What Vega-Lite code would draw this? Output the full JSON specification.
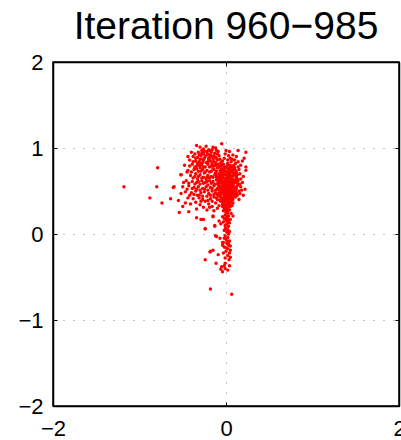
{
"$schema": "https://vega.github.io/schema/vega-lite/v6.json",
"width": 346, "height": 344,
"autosize": {"type": "none"},
"padding": {"left": 53, "top": 62, "right": 2, "bottom": 34},
"title": {"text": "Iteration 960−985", "fontSize": 39, "font": "Liberation Sans", "fontWeight": "normal", "color": "black", "anchor": "middle", "frame": "group", "orient": "top", "offset": 4},
"config": {
  "view": {"stroke": "black", "strokeWidth": 1.5},
  "axis": {"labelFont": "Liberation Sans", "labelFontSize": 22, "labelColor": "black", "labelFlush": false, "labelOverlap": false, "labelBound": false, "domainColor": "black", "domainWidth": 1.5, "tickColor": "black", "tickSize": -4, "tickWidth": 1, "gridColor": "#808080", "gridDash": [1, 9], "gridWidth": 1}
},
"data": {"values": [
{"x":-0.03,"y":0.81},{"x":0.01,"y":0.79},{"x":0.04,"y":0.80},{"x":0.07,"y":0.78},{"x":-0.01,"y":0.77},{"x":0.02,"y":0.82},
{"x":-0.05,"y":0.76},{"x":-0.02,"y":0.75},{"x":0.00,"y":0.77},{"x":0.03,"y":0.76},{"x":0.05,"y":0.74},{"x":0.08,"y":0.75},{"x":0.10,"y":0.77},{"x":0.01,"y":0.73},
{"x":-0.06,"y":0.72},{"x":-0.03,"y":0.71},{"x":-0.01,"y":0.73},{"x":0.02,"y":0.72},{"x":0.04,"y":0.70},{"x":0.06,"y":0.72},{"x":0.09,"y":0.71},{"x":0.00,"y":0.69},{"x":0.03,"y":0.74},
{"x":-0.07,"y":0.68},{"x":-0.04,"y":0.67},{"x":-0.02,"y":0.69},{"x":0.01,"y":0.68},{"x":0.03,"y":0.66},{"x":0.05,"y":0.68},{"x":0.07,"y":0.67},{"x":0.10,"y":0.68},{"x":0.12,"y":0.66},{"x":0.00,"y":0.65},{"x":0.02,"y":0.70},
{"x":-0.08,"y":0.64},{"x":-0.05,"y":0.63},{"x":-0.03,"y":0.65},{"x":-0.01,"y":0.62},{"x":0.01,"y":0.64},{"x":0.03,"y":0.63},{"x":0.04,"y":0.65},{"x":0.06,"y":0.62},{"x":0.08,"y":0.64},{"x":0.11,"y":0.63},{"x":0.02,"y":0.61},{"x":-0.02,"y":0.60},
{"x":-0.09,"y":0.60},{"x":-0.06,"y":0.59},{"x":-0.04,"y":0.61},{"x":-0.01,"y":0.58},{"x":0.00,"y":0.60},{"x":0.02,"y":0.59},{"x":0.04,"y":0.60},{"x":0.05,"y":0.58},{"x":0.07,"y":0.61},{"x":0.09,"y":0.59},{"x":0.12,"y":0.60},{"x":0.01,"y":0.57},{"x":0.03,"y":0.62},
{"x":-0.08,"y":0.56},{"x":-0.05,"y":0.55},{"x":-0.03,"y":0.57},{"x":-0.02,"y":0.54},{"x":0.00,"y":0.56},{"x":0.01,"y":0.55},{"x":0.03,"y":0.56},{"x":0.04,"y":0.53},{"x":0.06,"y":0.55},{"x":0.08,"y":0.57},{"x":0.10,"y":0.54},{"x":0.13,"y":0.56},{"x":0.02,"y":0.52},{"x":-0.01,"y":0.52},
{"x":-0.09,"y":0.52},{"x":-0.06,"y":0.51},{"x":-0.04,"y":0.53},{"x":-0.02,"y":0.50},{"x":0.00,"y":0.51},{"x":0.02,"y":0.50},{"x":0.03,"y":0.49},{"x":0.05,"y":0.51},{"x":0.07,"y":0.52},{"x":0.09,"y":0.50},{"x":0.11,"y":0.51},{"x":0.01,"y":0.48},{"x":0.04,"y":0.47},
{"x":-0.08,"y":0.48},{"x":-0.05,"y":0.47},{"x":-0.03,"y":0.49},{"x":-0.01,"y":0.46},{"x":0.00,"y":0.47},{"x":0.02,"y":0.45},{"x":0.05,"y":0.46},{"x":0.06,"y":0.48},{"x":0.08,"y":0.47},{"x":0.10,"y":0.46},{"x":0.03,"y":0.44},{"x":-0.02,"y":0.44},
{"x":-0.07,"y":0.43},{"x":-0.04,"y":0.42},{"x":-0.01,"y":0.43},{"x":0.01,"y":0.42},{"x":0.03,"y":0.41},{"x":0.05,"y":0.43},{"x":0.07,"y":0.42},{"x":0.09,"y":0.44},{"x":0.00,"y":0.40},{"x":0.02,"y":0.39},{"x":-0.03,"y":0.40},
{"x":-0.06,"y":0.38},{"x":-0.03,"y":0.37},{"x":-0.01,"y":0.38},{"x":0.01,"y":0.36},{"x":0.03,"y":0.37},{"x":0.04,"y":0.35},{"x":0.06,"y":0.38},{"x":0.08,"y":0.36},{"x":0.00,"y":0.34},{"x":0.02,"y":0.33},{"x":-0.02,"y":0.34},
{"x":-0.04,"y":0.32},{"x":-0.01,"y":0.31},{"x":0.01,"y":0.30},{"x":0.03,"y":0.31},{"x":0.05,"y":0.32},{"x":0.00,"y":0.28},{"x":0.02,"y":0.27},{"x":-0.02,"y":0.29},
{"x":0.14,"y":0.62},{"x":0.15,"y":0.50},{"x":0.13,"y":0.45},{"x":0.12,"y":0.72},{"x":0.14,"y":0.78},{"x":0.16,"y":0.58},{"x":-0.10,"y":0.58},{"x":-0.11,"y":0.66},{"x":-0.10,"y":0.46},{"x":0.11,"y":0.82},{"x":0.06,"y":0.84},{"x":-0.05,"y":0.80},{"x":0.09,"y":0.80},{"x":0.18,"y":0.51},{"x":0.20,"y":0.45},{"x":0.15,"y":0.40},{"x":0.19,"y":0.85},{"x":0.23,"y":0.78},{"x":0.23,"y":0.74},{"x":0.14,"y":0.97},{"x":0.23,"y":0.95},{"x":0.03,"y":0.91},{"x":0.00,"y":0.97},{"x":-0.05,"y":1.05},{"x":0.05,"y":0.88},{"x":0.10,"y":0.86},{"x":0.08,"y":0.92},{"x":-0.02,"y":0.88},{"x":0.12,"y":0.90},{"x":0.16,"y":0.70},{"x":0.17,"y":0.64},
{"x":-0.02,"y":0.78},{"x":0.05,"y":0.77},{"x":0.06,"y":0.79},{"x":-0.04,"y":0.73},{"x":0.07,"y":0.73},{"x":0.11,"y":0.74},{"x":-0.05,"y":0.69},{"x":0.04,"y":0.67},{"x":0.08,"y":0.69},{"x":0.11,"y":0.70},{"x":-0.06,"y":0.65},{"x":0.00,"y":0.63},{"x":0.05,"y":0.64},{"x":0.09,"y":0.62},{"x":0.13,"y":0.64},{"x":-0.07,"y":0.61},{"x":-0.03,"y":0.59},{"x":0.01,"y":0.61},{"x":0.06,"y":0.59},{"x":0.10,"y":0.61},{"x":0.14,"y":0.58},{"x":-0.07,"y":0.54},{"x":-0.04,"y":0.56},{"x":0.02,"y":0.54},{"x":0.05,"y":0.56},{"x":0.07,"y":0.54},{"x":0.09,"y":0.55},{"x":0.12,"y":0.53},{"x":-0.07,"y":0.49},{"x":-0.03,"y":0.51},{"x":0.01,"y":0.50},{"x":0.04,"y":0.50},{"x":0.06,"y":0.50},{"x":0.08,"y":0.49},{"x":0.12,"y":0.48},{"x":-0.06,"y":0.45},{"x":-0.02,"y":0.47},{"x":0.01,"y":0.44},{"x":0.04,"y":0.45},{"x":0.07,"y":0.45},{"x":0.11,"y":0.43},{"x":-0.05,"y":0.40},{"x":0.02,"y":0.41},{"x":0.05,"y":0.40},{"x":0.08,"y":0.40},{"x":-0.04,"y":0.35},{"x":0.02,"y":0.35},{"x":0.05,"y":0.36},{"x":0.07,"y":0.33},{"x":-0.03,"y":0.27},{"x":0.04,"y":0.28},{"x":0.01,"y":0.26},{"x":0.16,"y":0.47},{"x":0.17,"y":0.55},{"x":0.13,"y":0.69},{"x":0.15,"y":0.75},{"x":0.17,"y":0.80},{"x":0.21,"y":0.88},{"x":0.20,"y":0.67},{"x":0.19,"y":0.60},{"x":0.22,"y":0.52},{"x":0.14,"y":0.84},{"x":0.07,"y":0.87},{"x":0.02,"y":0.86},{"x":-0.04,"y":0.85},{"x":-0.01,"y":0.93},{"x":0.04,"y":0.96},
{"x":0.00,"y":0.25},{"x":0.02,"y":0.24},{"x":-0.01,"y":0.22},{"x":0.03,"y":0.21},{"x":0.01,"y":0.19},{"x":-0.02,"y":0.18},{"x":0.00,"y":0.16},{"x":0.02,"y":0.15},{"x":0.04,"y":0.13},{"x":0.01,"y":0.12},{"x":-0.01,"y":0.10},{"x":0.03,"y":0.09},{"x":0.00,"y":0.07},{"x":0.02,"y":0.05},{"x":-0.02,"y":0.04},{"x":0.05,"y":0.17},{"x":-0.04,"y":0.20},{"x":0.06,"y":0.24},{"x":0.01,"y":0.02},{"x":0.03,"y":0.00},{"x":-0.01,"y":-0.02},{"x":0.02,"y":-0.04},{"x":0.00,"y":-0.06},{"x":0.04,"y":-0.08},{"x":-0.03,"y":-0.10},{"x":0.01,"y":-0.11},{"x":0.05,"y":-0.14},{"x":-0.02,"y":-0.15},
{"x":0.01,"y":0.20},{"x":-0.03,"y":0.14},{"x":0.03,"y":0.17},{"x":-0.01,"y":0.06},{"x":0.04,"y":0.03},{"x":0.01,"y":-0.08},{"x":-0.02,"y":-0.05},{"x":0.03,"y":-0.13},{"x":-0.04,"y":-0.13},{"x":0.00,"y":-0.16},{"x":0.02,"y":-0.25},{"x":-0.03,"y":-0.22},{"x":0.05,"y":-0.27},{"x":-0.01,"y":-0.34},{"x":0.04,"y":-0.37},{"x":-0.02,"y":-0.37},{"x":0.02,"y":-0.42},
{"x":-0.11,"y":-0.03},{"x":-0.12,"y":-0.02},{"x":-0.13,"y":0.09},{"x":-0.24,"y":0.06},{"x":-0.15,"y":0.20},{"x":0.08,"y":0.21},{"x":-0.07,"y":-0.05},{"x":-0.04,"y":-0.10},{"x":0.03,"y":-0.10},{"x":-0.185,"y":-0.21},{"x":-0.15,"y":-0.19},{"x":-0.09,"y":-0.24},{"x":-0.01,"y":-0.28},{"x":0.035,"y":-0.30},{"x":-0.24,"y":-0.30},{"x":-0.115,"y":-0.34},{"x":-0.05,"y":-0.38},{"x":-0.06,"y":-0.41},{"x":-0.04,"y":-0.44},{"x":-0.01,"y":-0.40},{"x":-0.18,"y":-0.64},{"x":0.066,"y":-0.70},{"x":0.02,"y":-0.17},{"x":0.05,"y":-0.19},{"x":0.00,"y":-0.20},{"x":0.04,"y":-0.22},
{"x":-0.29,"y":0.17},{"x":-0.26,"y":0.17},{"x":-0.34,"y":0.19},{"x":-0.15,"y":0.21},{"x":-0.13,"y":0.10},{"x":-0.08,"y":0.15},{"x":-0.06,"y":0.12},
{"x":-0.30,"y":1.01},{"x":-0.26,"y":0.99},{"x":-0.20,"y":0.98},{"x":-0.15,"y":1.01},{"x":-0.34,"y":1.03},{"x":-0.11,"y":0.97},{"x":-0.23,"y":1.02},
{"x":-0.32,"y":0.95},{"x":-0.28,"y":0.94},{"x":-0.25,"y":0.96},{"x":-0.21,"y":0.93},{"x":-0.17,"y":0.95},{"x":-0.13,"y":0.94},{"x":-0.09,"y":0.96},{"x":-0.36,"y":0.93},{"x":-0.19,"y":0.97},
{"x":-0.38,"y":0.90},{"x":-0.33,"y":0.89},{"x":-0.29,"y":0.91},{"x":-0.24,"y":0.90},{"x":-0.20,"y":0.88},{"x":-0.16,"y":0.90},{"x":-0.12,"y":0.89},{"x":-0.08,"y":0.91},{"x":-0.27,"y":0.87},{"x":-0.22,"y":0.92},
{"x":-0.42,"y":0.86},{"x":-0.35,"y":0.85},{"x":-0.31,"y":0.84},{"x":-0.26,"y":0.86},{"x":-0.23,"y":0.83},{"x":-0.18,"y":0.85},{"x":-0.14,"y":0.84},{"x":-0.10,"y":0.86},{"x":-0.06,"y":0.83},{"x":-0.29,"y":0.82},{"x":-0.20,"y":0.87},
{"x":-0.48,"y":0.80},{"x":-0.39,"y":0.81},{"x":-0.34,"y":0.79},{"x":-0.28,"y":0.80},{"x":-0.24,"y":0.78},{"x":-0.21,"y":0.81},{"x":-0.17,"y":0.79},{"x":-0.12,"y":0.80},{"x":-0.08,"y":0.78},{"x":-0.30,"y":0.77},{"x":-0.15,"y":0.76},
{"x":-0.44,"y":0.74},{"x":-0.37,"y":0.75},{"x":-0.32,"y":0.73},{"x":-0.27,"y":0.75},{"x":-0.22,"y":0.74},{"x":-0.19,"y":0.72},{"x":-0.14,"y":0.75},{"x":-0.11,"y":0.73},{"x":-0.07,"y":0.74},{"x":-0.25,"y":0.71},{"x":-0.35,"y":0.70},
{"x":-0.41,"y":0.68},{"x":-0.36,"y":0.67},{"x":-0.30,"y":0.69},{"x":-0.26,"y":0.66},{"x":-0.21,"y":0.68},{"x":-0.17,"y":0.67},{"x":-0.13,"y":0.69},{"x":-0.09,"y":0.66},{"x":-0.52,"y":0.69},{"x":-0.23,"y":0.64},{"x":-0.33,"y":0.64},
{"x":-0.46,"y":0.62},{"x":-0.39,"y":0.61},{"x":-0.34,"y":0.60},{"x":-0.28,"y":0.62},{"x":-0.24,"y":0.60},{"x":-0.19,"y":0.62},{"x":-0.15,"y":0.61},{"x":-0.11,"y":0.63},{"x":-0.07,"y":0.60},{"x":-0.30,"y":0.58},{"x":-0.21,"y":0.57},
{"x":-0.50,"y":0.55},{"x":-0.43,"y":0.56},{"x":-0.37,"y":0.54},{"x":-0.32,"y":0.55},{"x":-0.27,"y":0.53},{"x":-0.23,"y":0.55},{"x":-0.18,"y":0.54},{"x":-0.14,"y":0.56},{"x":-0.10,"y":0.53},
{"x":-0.47,"y":0.49},{"x":-0.40,"y":0.48},{"x":-0.35,"y":0.50},{"x":-0.29,"y":0.48},{"x":-0.25,"y":0.49},{"x":-0.20,"y":0.47},{"x":-0.16,"y":0.50},{"x":-0.12,"y":0.48},{"x":-0.33,"y":0.45},{"x":-0.22,"y":0.44},
{"x":-0.44,"y":0.42},{"x":-0.38,"y":0.41},{"x":-0.31,"y":0.42},{"x":-0.27,"y":0.40},{"x":-0.18,"y":0.41},{"x":-0.14,"y":0.43},{"x":-0.10,"y":0.40},{"x":-0.24,"y":0.38},{"x":-0.35,"y":0.37},
{"x":-0.41,"y":0.35},{"x":-0.30,"y":0.34},{"x":-0.20,"y":0.35},{"x":-0.16,"y":0.32},{"x":-0.12,"y":0.36},{"x":-0.26,"y":0.31},{"x":-0.08,"y":0.33},
{"x":-0.22,"y":0.28},{"x":-0.14,"y":0.27},{"x":-0.34,"y":0.29},{"x":-0.43,"y":0.26},{"x":-0.54,"y":0.25},
{"x":-0.28,"y":0.97},{"x":-0.22,"y":0.96},{"x":-0.16,"y":0.98},{"x":-0.12,"y":1.00},{"x":-0.31,"y":0.92},{"x":-0.26,"y":0.93},{"x":-0.18,"y":0.92},{"x":-0.14,"y":0.91},{"x":-0.10,"y":0.93},{"x":-0.35,"y":0.88},{"x":-0.30,"y":0.87},{"x":-0.25,"y":0.88},{"x":-0.19,"y":0.89},{"x":-0.15,"y":0.87},{"x":-0.11,"y":0.88},{"x":-0.07,"y":0.87},{"x":-0.38,"y":0.84},{"x":-0.33,"y":0.82},{"x":-0.27,"y":0.83},{"x":-0.21,"y":0.84},{"x":-0.16,"y":0.82},{"x":-0.12,"y":0.83},{"x":-0.09,"y":0.81},{"x":-0.42,"y":0.79},{"x":-0.36,"y":0.78},{"x":-0.31,"y":0.80},{"x":-0.26,"y":0.78},{"x":-0.19,"y":0.78},{"x":-0.14,"y":0.79},{"x":-0.10,"y":0.77},{"x":-0.06,"y":0.79},{"x":-0.40,"y":0.72},{"x":-0.34,"y":0.76},{"x":-0.29,"y":0.73},{"x":-0.24,"y":0.72},{"x":-0.17,"y":0.73},{"x":-0.12,"y":0.71},{"x":-0.08,"y":0.70},{"x":-0.38,"y":0.65},{"x":-0.32,"y":0.67},{"x":-0.28,"y":0.65},{"x":-0.22,"y":0.66},{"x":-0.19,"y":0.65},{"x":-0.15,"y":0.66},{"x":-0.11,"y":0.68},{"x":-0.07,"y":0.65},{"x":-0.43,"y":0.59},{"x":-0.36,"y":0.58},{"x":-0.32,"y":0.61},{"x":-0.26,"y":0.59},{"x":-0.22,"y":0.61},{"x":-0.17,"y":0.59},{"x":-0.13,"y":0.58},{"x":-0.09,"y":0.61},{"x":-0.45,"y":0.52},{"x":-0.39,"y":0.53},{"x":-0.34,"y":0.52},{"x":-0.30,"y":0.51},{"x":-0.25,"y":0.52},{"x":-0.21,"y":0.51},{"x":-0.16,"y":0.53},{"x":-0.12,"y":0.51},{"x":-0.08,"y":0.55},{"x":-0.42,"y":0.45},{"x":-0.37,"y":0.46},{"x":-0.31,"y":0.45},{"x":-0.27,"y":0.44},{"x":-0.18,"y":0.45},{"x":-0.14,"y":0.46},{"x":-0.09,"y":0.45},{"x":-0.29,"y":0.38},{"x":-0.21,"y":0.39},{"x":-0.16,"y":0.38},{"x":-0.11,"y":0.42},{"x":-0.07,"y":0.39},{"x":-0.19,"y":0.31},{"x":-0.10,"y":0.30},{"x":-0.52,"y":0.47},{"x":-0.49,"y":0.60},{"x":-0.55,"y":0.39},{"x":-0.47,"y":0.36},{"x":-0.50,"y":0.32},{"x":-0.45,"y":0.72},{"x":-0.40,"y":0.95},{"x":-0.44,"y":0.90},
{"x":-1.18,"y":0.55},{"x":-0.88,"y":0.42},{"x":-0.79,"y":0.77},{"x":-0.80,"y":0.55},{"x":-0.74,"y":0.36},{"x":-0.64,"y":0.41},{"x":-0.61,"y":0.54},{"x":-0.60,"y":0.55},{"x":-0.52,"y":0.69},{"x":-0.27,"y":0.17},{"x":-0.24,"y":0.06},{"x":-0.18,"y":-0.20}
]},
"layer": [
  {"mark": {"type": "point", "filled": true, "shape": "circle", "size": 12, "color": "#ff0000", "opacity": 1},
   "encoding": {
     "x": {"field": "x", "type": "quantitative", "title": null, "scale": {"domain": [-2, 2], "nice": false, "zero": false}, "axis": {"orient": "bottom", "values": [-2, 0, 2], "grid": true, "labelPadding": 16}},
     "y": {"field": "y", "type": "quantitative", "title": null, "scale": {"domain": [-2, 2], "nice": false, "zero": false}, "axis": {"orient": "left", "values": [-2, -1, 0, 1, 2], "grid": true, "labelPadding": 14}}
   }},
  {"mark": {"type": "point", "opacity": 0},
   "encoding": {
     "x": {"field": "x", "type": "quantitative", "title": null, "axis": {"orient": "top", "values": [-2, 0, 2], "labels": false, "grid": false}},
     "y": {"field": "y", "type": "quantitative", "title": null, "axis": {"orient": "right", "values": [-2, -1, 0, 1, 2], "labels": false, "grid": false}}
   }}
],
"resolve": {"axis": {"x": "independent", "y": "independent"}}
}
